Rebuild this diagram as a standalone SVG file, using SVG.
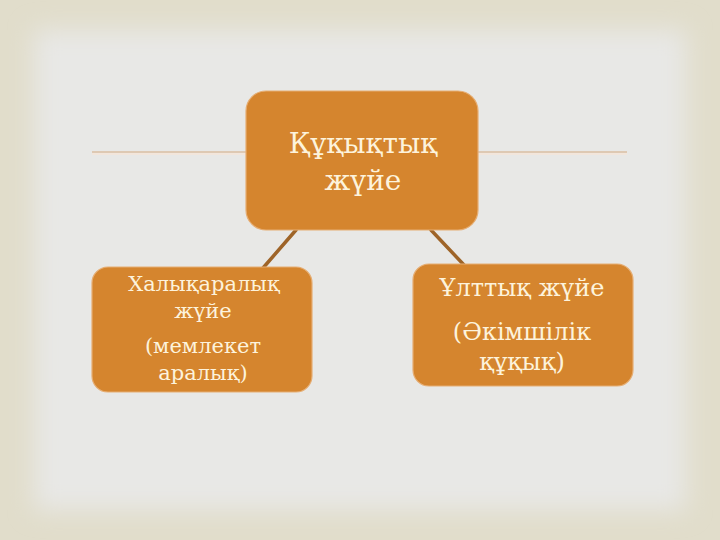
<svg xmlns="http://www.w3.org/2000/svg" width="720" height="540" viewBox="0 0 720 540">
<defs>
<filter id="soft" x="-10%" y="-10%" width="120%" height="120%"><feGaussianBlur stdDeviation="12"/></filter>
<style>
.node{fill:#d5852e;stroke:#e6ad72;stroke-width:1.2}
.t{font-family:"DejaVu Serif","Liberation Serif",serif;fill:#fdf3dc;text-anchor:middle}
.conn{stroke:#9e6428;stroke-width:3.5;stroke-linecap:round}
.hl{stroke:#d4aa80;stroke-width:1.2}
.hl2{stroke:#f6e6d8;stroke-width:1.5}
</style>
</defs>
<rect width="720" height="540" fill="#e1ddcb"/>
<rect x="34" y="30" width="652" height="480" fill="#e8e8e6" filter="url(#soft)"/>
<g id="decor">
<line class="hl2" x1="92" y1="154" x2="246" y2="154"/>
<line class="hl2" x1="478" y1="154" x2="627" y2="154"/>
<line class="hl" x1="92" y1="152" x2="246" y2="152"/>
<line class="hl" x1="478" y1="152" x2="627" y2="152"/>
</g>
<g id="connectors">
<line class="conn" x1="296" y1="230" x2="263" y2="268"/>
<line class="conn" x1="431" y1="230" x2="464" y2="265"/>
</g>
<g id="top">
<rect class="node" x="246" y="91" width="232" height="139" rx="20"/>
<text class="t" font-size="28" x="363" y="153">Құқықтық</text>
<text class="t" font-size="28" x="363" y="190">жүйе</text>
</g>
<g id="left">
<rect class="node" x="92" y="267" width="220" height="125" rx="16"/>
<text class="t" font-size="21" x="204" y="291">Халықаралық</text>
<text class="t" font-size="21" x="203" y="318">жүйе</text>
<text class="t" font-size="21" x="203" y="353">(мемлекет</text>
<text class="t" font-size="21" x="203" y="380">аралық)</text>
</g>
<g id="right">
<rect class="node" x="413" y="264" width="220" height="122" rx="16"/>
<text class="t" font-size="24" x="522" y="296">Ұлттық жүйе</text>
<text class="t" font-size="24" x="522" y="340">(Әкімшілік</text>
<text class="t" font-size="24" x="522" y="370">құқық)</text>
</g>
</svg>
